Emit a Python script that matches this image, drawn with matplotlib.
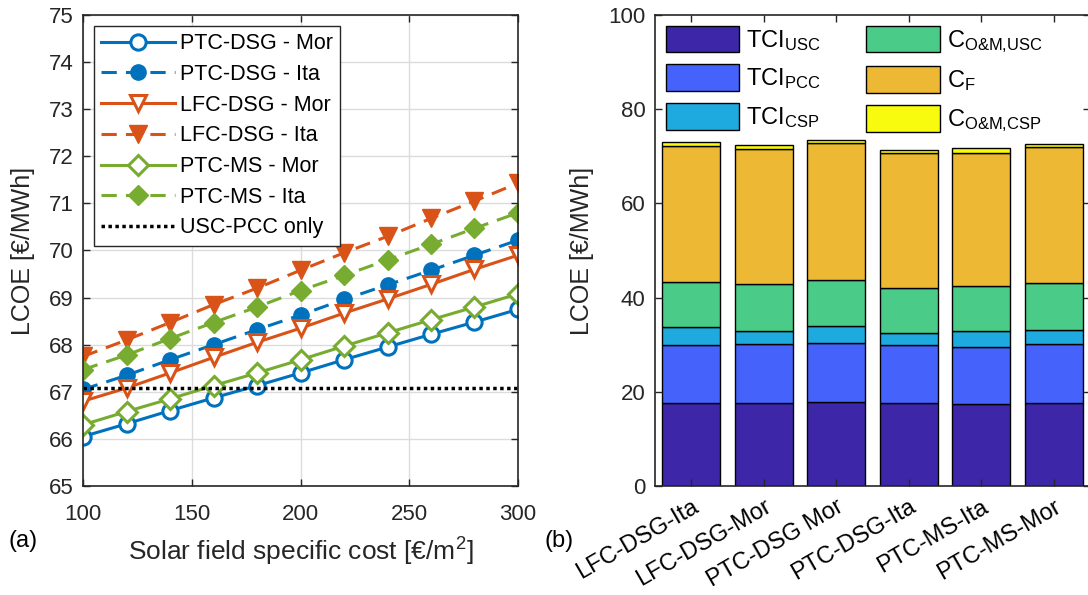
import numpy as np
import matplotlib
matplotlib.use("Agg")
import matplotlib.pyplot as plt

plt.rcParams["font.family"] = ["Liberation Sans", "DejaVu Sans"]
plt.rcParams["mathtext.fontset"] = "custom"
plt.rcParams["mathtext.rm"] = "Liberation Sans"
plt.rcParams["mathtext.it"] = "Liberation Sans"
plt.rcParams["mathtext.default"] = "regular"

# (a) LCOE vs solar field specific cost
cost = [100, 120, 140, 160, 180, 200, 220, 240, 260, 280, 300]
ptc_dsg_mor = [66.05, 66.32, 66.60, 66.87, 67.13, 67.40, 67.68, 67.95, 68.22, 68.48, 68.75]
ptc_dsg_ita = [67.05, 67.35, 67.68, 68.00, 68.32, 68.63, 68.96, 69.27, 69.58, 69.90, 70.22]
lfc_dsg_mor = [66.80, 67.08, 67.40, 67.73, 68.05, 68.35, 68.67, 68.97, 69.28, 69.60, 69.90]
lfc_dsg_ita = [67.75, 68.10, 68.47, 68.85, 69.20, 69.58, 69.95, 70.30, 70.68, 71.05, 71.43]
ptc_ms_mor = [66.30, 66.58, 66.85, 67.13, 67.40, 67.68, 67.97, 68.25, 68.53, 68.80, 69.08]
ptc_ms_ita = [67.47, 67.78, 68.13, 68.47, 68.80, 69.15, 69.47, 69.80, 70.13, 70.47, 70.80]
usc_pcc_only = 67.08

# (b) LCOE breakdown
plants = ["LFC-DSG-Ita", "LFC-DSG-Mor", "PTC-DSG Mor", "PTC-DSG-Ita", "PTC-MS-Ita", "PTC-MS-Mor"]
tci_usc = [17.6, 17.7, 17.9, 17.6, 17.4, 17.7]
tci_pcc = [12.4, 12.4, 12.4, 12.25, 12.2, 12.4]
tci_csp = [3.7, 2.9, 3.6, 2.55, 3.3, 3.1]
om_usc = [9.7, 9.8, 9.8, 9.6, 9.5, 9.8]
c_f = [28.8, 28.75, 29.1, 28.6, 28.4, 29.0]
om_csp = [0.9, 0.85, 0.7, 0.8, 0.9, 0.6]

fig = plt.figure(figsize=(10.88, 5.95), dpi=100)
ax1 = fig.add_axes([0.0763, 0.1832, 0.3998, 0.7916])
ax2 = fig.add_axes([0.602, 0.1832, 0.3998, 0.7916])

blue, orange, green = "#0072BD", "#D95319", "#77AC30"
dash = (0, (5, 3))
ms = 11
lw = 2.2

ax1.plot(cost, ptc_dsg_mor, "-o", color=blue, lw=lw, ms=ms, mfc="white", mew=2.2, label="PTC-DSG - Mor")
ax1.plot(cost, ptc_dsg_ita, marker="o", ls=dash, color=blue, lw=lw, ms=ms, label="PTC-DSG - Ita")
ax1.plot(cost, lfc_dsg_mor, "-v", color=orange, lw=lw, ms=ms + 1, mfc="white", mew=2.2, label="LFC-DSG - Mor")
ax1.plot(cost, lfc_dsg_ita, marker="v", ls=dash, color=orange, lw=lw, ms=ms + 2, label="LFC-DSG - Ita")
ax1.plot(cost, ptc_ms_mor, "-D", color=green, lw=lw, ms=ms - 1, mfc="white", mew=2.2, label="PTC-MS - Mor")
ax1.plot(cost, ptc_ms_ita, marker="D", ls=dash, color=green, lw=lw, ms=ms - 1, label="PTC-MS - Ita")
ax1.plot([cost[0], cost[-1]], [usc_pcc_only, usc_pcc_only], ls=(0, (1, 1)), color="black", lw=2.5,
         label="USC-PCC only")

ax1.set_xlim(100, 300)
ax1.set_ylim(65, 75)
ax1.set_xticks(range(100, 301, 50))
ax1.set_yticks(range(65, 76))
ax1.grid(True, color="#dcdcdc", lw=1)
ax1.set_axisbelow(True)
ax1.set_xlabel("Solar field specific cost [€/m$^2$]", fontsize=19, labelpad=8)
ax1.set_ylabel("LCOE [€/MWh]", fontsize=18, labelpad=10)
leg1 = ax1.legend(loc="upper left", fontsize=15.5, handlelength=3.4, borderaxespad=0.5,
                  fancybox=False, edgecolor="#262626", framealpha=1, labelspacing=0.45,
                  handletextpad=0.25, borderpad=0.35)
leg1.get_frame().set_linewidth(1)

# stacked bars
x = np.arange(1, len(plants) + 1)
parts = [
    (tci_usc, "#3E26A8", "TCI$_{USC}$"),
    (tci_pcc, "#4563FA", "TCI$_{PCC}$"),
    (tci_csp, "#1EAADF", "TCI$_{CSP}$"),
    (om_usc, "#4ACB87", "C$_{\\text{O&M,USC}}$"),
    (c_f, "#EDB934", "C$_{F}$"),
    (om_csp, "#F9FB0E", "C$_{\\text{O&M,CSP}}$"),
]
bottom = np.zeros(len(plants))
handles = []
for vals, col, lab in parts:
    h = ax2.bar(x, vals, 0.8, bottom=bottom, color=col, edgecolor="black", lw=1, label=lab)
    handles.append(h)
    bottom += np.array(vals)

ax2.set_xlim(0.5, 6.5)
ax2.set_ylim(0, 100)
ax2.set_yticks(range(0, 101, 20))
ax2.set_xticks(x)
ax2.set_xticklabels(plants, rotation=30, ha="right", rotation_mode="anchor")
ax2.set_ylabel("LCOE [€/MWh]", fontsize=18, labelpad=10)
ax2.legend(handles, [p[2] for p in parts], ncol=2, loc="upper left",
           frameon=False, fontsize=17, handlelength=3.1, handleheight=1.35, columnspacing=1.95,
           labelspacing=0.5, handletextpad=0.3, borderaxespad=0.05)

for ax in (ax1, ax2):
    ax.tick_params(direction="in", top=True, right=True, labelsize=16, colors="#262626",
                   length=5, width=1, pad=7)
    for s in ax.spines.values():
        s.set_color("#262626")
        s.set_linewidth(1.2)
    ax.xaxis.label.set_color("#262626")
    ax.yaxis.label.set_color("#262626")
ax1.tick_params(axis="x", pad=13)
for t in ax2.get_xticklabels():
    t.set_color("black")
    t.set_fontsize(17)

fig.text(0.008, 0.08, "(a)", fontsize=17)
fig.text(0.5, 0.08, "(b)", fontsize=17)

fig.savefig("out.png", dpi=100)
